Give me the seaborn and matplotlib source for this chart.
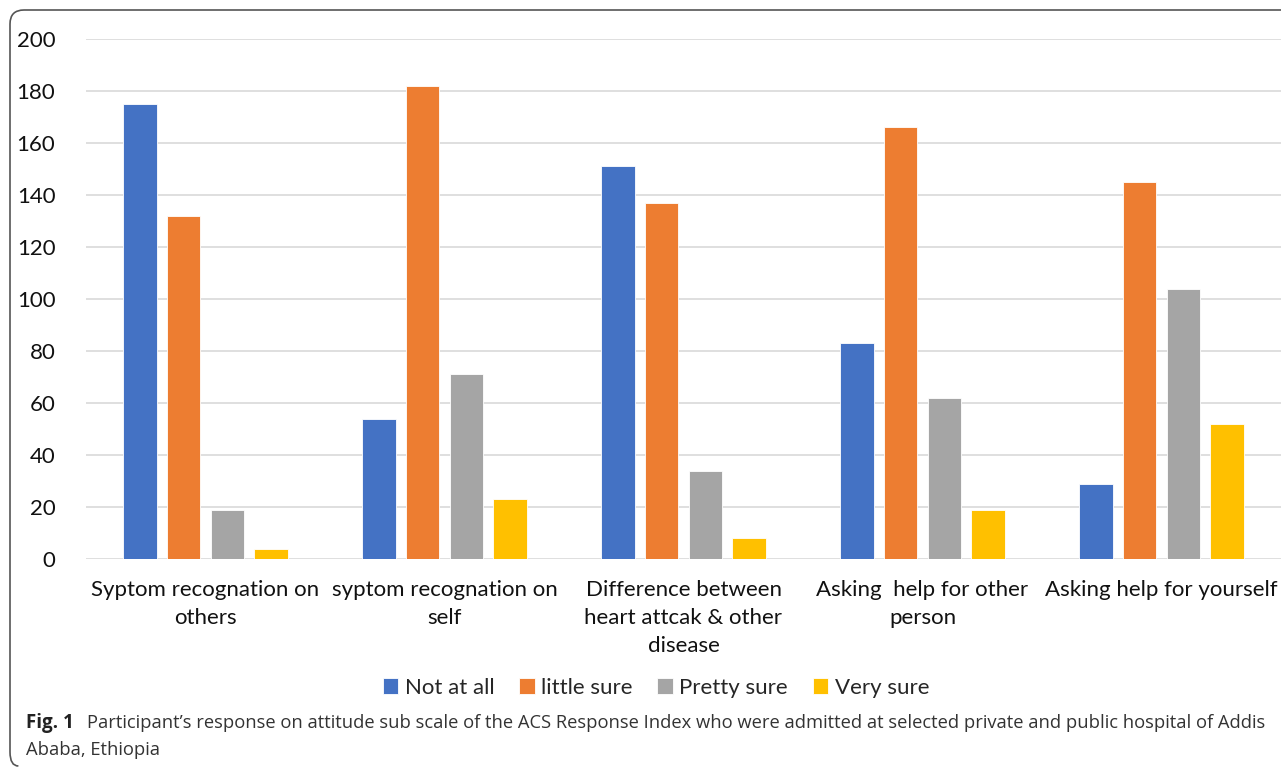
import matplotlib
matplotlib.use("Agg")
import matplotlib.pyplot as plt
from matplotlib.path import Path
from matplotlib.patches import PathPatch
import seaborn as sns
import pandas as pd

# Attitude items and response levels
items = [
    "Syptom recognation on\nothers",
    "syptom recognation on\nself",
    "Difference between\nheart attcak & other\ndisease",
    "Asking  help for other\nperson",
    "Asking help for yourself",
]
levels = ["Not at all", "little sure", "Pretty sure", "Very sure"]

not_at_all = [175, 54, 151, 83, 29]
little_sure = [132, 182, 137, 166, 145]
pretty_sure = [19, 71, 34, 62, 104]
very_sure = [4, 23, 8, 19, 52]

colors = ["#4472C4", "#ED7D31", "#A5A5A5", "#FFC000"]
y_ticks = list(range(0, 201, 20))

caption_bold = "Fig. 1"
caption_text = ("Participant\u2019s response on attitude sub scale of the ACS Response Index who were "
                "admitted at selected private and public hospital of Addis")
caption_text2 = "Ababa, Ethiopia"

rows = []
for lvl, vals in zip(levels, [not_at_all, little_sure, pretty_sure, very_sure]):
    for item, v in zip(items, vals):
        rows.append({"item": item, "level": lvl, "count": v})
df = pd.DataFrame(rows)

sns.set_theme(style="white")
plt.rcParams["font.family"] = ["Lato", "DejaVu Sans"]

fig = plt.figure(figsize=(12.81, 7.70), dpi=100)
ax = fig.add_axes([86 / 1281, 1 - 559 / 770, 1 - 86 / 1281, (559 - 39) / 770])

sns.barplot(data=df, x="item", y="count", hue="level", order=items, hue_order=levels,
            palette=colors, saturation=1, width=0.735, gap=0.23, edgecolor="white",
            linewidth=0.6, legend=True, ax=ax)

ax.set_ylim(0, 200)
ax.set_xlim(-0.5, len(items) - 0.5)
ax.set_yticks(y_ticks)
ax.set_yticklabels([str(t) for t in y_ticks], fontsize=16, color="#111111")
ax.set_xticks(range(len(items)))
ax.set_xticklabels(items, fontsize=16, color="#111111", linespacing=1.5)
ax.tick_params(axis="both", length=0)
ax.tick_params(axis="x", pad=15)
ax.tick_params(axis="y", pad=22)
ax.set_xlabel("")
ax.set_ylabel("")
ax.yaxis.grid(True, color="#d9d9d9", linewidth=1.2)
ax.set_axisbelow(True)
for s in ax.spines.values():
    s.set_visible(False)

handles, labels = ax.get_legend_handles_labels()
ax.get_legend().remove()
fig.legend(handles, labels, loc="center", bbox_to_anchor=(656 / 1281, 1 - 688 / 770),
           ncol=4, frameon=False, fontsize=16, handlelength=0.7, handleheight=0.7,
           handletextpad=0.3, columnspacing=1.1)

# Caption below the chart
fig.text(26 / 1281, 1 - 723 / 770, caption_bold, fontsize=13.5, fontweight="bold",
         family=["Open Sans", "DejaVu Sans"], va="center", ha="left", color="#222222")
fig.text(87 / 1281, 1 - 723 / 770, caption_text, fontsize=13.2,
         family=["Open Sans", "DejaVu Sans"], va="center", ha="left", color="#333333")
fig.text(26 / 1281, 1 - 750 / 770, caption_text2, fontsize=13.2,
         family=["Open Sans", "DejaVu Sans"], va="center", ha="left", color="#333333")

# Rounded frame around the figure panel (open on the right)
W, H = 1281, 770
r = 14
x0, yt, yb = 10, 10, 766
verts = [
    (W + 5, yt), (x0 + r, yt), (x0, yt), (x0, yt + r),
    (x0, yb - r), (x0, yb), (x0 + r * 0.6, yb),
]
codes = [Path.MOVETO, Path.LINETO, Path.CURVE3, Path.CURVE3,
         Path.LINETO, Path.CURVE3, Path.CURVE3]
verts_fig = [(x / W, 1 - y / H) for x, y in verts]
frame = PathPatch(Path(verts_fig, codes), transform=fig.transFigure, fill=False,
                  edgecolor="#555555", linewidth=1.2, clip_on=False)
fig.patches.append(frame)

fig.savefig("out.png", dpi=100)
